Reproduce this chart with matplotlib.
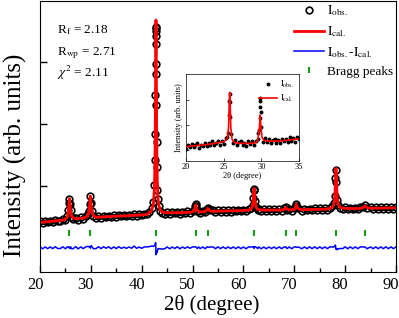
import matplotlib
matplotlib.use("Agg")
from matplotlib import pyplot as plt
from matplotlib.transforms import ScaledTranslation

plt.rcParams['font.family'] = ['Liberation Serif', 'DejaVu Serif']
plt.rcParams['mathtext.fontset'] = 'stix'

# ---- main pattern (2theta, observed, calculated) ----
two_theta = [20.0, 20.5, 21.0, 21.5, 22.0, 22.5, 23.0, 23.5, 24.0, 24.5,
             25.0, 25.4, 25.6, 25.7, 25.8, 25.9, 26.0, 26.2, 26.5,
             27.0, 27.5, 28.0, 28.5,
             29.0, 29.4, 29.6, 29.75, 29.9, 30.05, 30.2, 30.5,
             31.0, 31.5, 32.0, 32.5, 33.0, 33.5, 34.0, 34.5, 35.0, 35.5, 36.0,
             36.5, 37.0, 37.5, 38.0, 38.5, 39.0, 39.5, 40.0, 40.5, 41.0,
             41.5, 42.0, 42.3, 42.5, 42.6, 42.65, 42.7, 42.73, 42.76, 42.78, 42.8,
             42.82, 42.84, 42.87, 42.9, 42.95, 43.0, 43.1, 43.2, 43.35, 43.6, 44.0,
             44.5, 45.0, 45.5, 46.0, 46.5, 47.0, 47.5, 48.0, 48.5, 49.0, 49.5,
             50.0, 50.3, 50.5, 50.6, 50.7, 50.9, 51.2,
             51.5, 52.0,
             52.5, 52.85, 53.0, 53.15, 53.5,
             54.0, 54.5, 55.0, 55.5, 56.0, 56.5, 57.0, 57.5, 58.0, 58.5, 59.0,
             59.5, 60.0, 60.5, 61.0,
             61.5, 61.8, 61.95, 62.05, 62.1, 62.15, 62.3, 62.5, 62.8,
             63.0, 63.5, 64.0, 64.5, 65.0, 65.5, 66.0, 66.5, 67.0, 67.5,
             68.0, 68.3, 68.6,
             69.0, 69.5,
             70.0, 70.25, 70.4, 70.55, 70.8,
             71.5, 72.0, 72.5, 73.0, 73.5, 74.0, 74.5, 75.0, 75.5, 76.0, 76.5, 77.0,
             77.5, 77.8, 77.95, 78.1, 78.2, 78.3, 78.45, 78.6, 79.0,
             79.5, 80.0, 80.5, 81.0, 81.5, 82.0, 82.5, 83.0,
             83.5, 83.9, 84.3,
             85.0, 85.5, 86.0, 86.5, 87.0, 87.5, 88.0, 88.5, 89.0, 89.5, 90.0]

i_cal = [410, 414, 418, 422, 426, 430, 434, 438, 442, 446,
         463, 504, 590, 708, 793, 710, 594, 512, 485,
         469, 472, 476, 479,
         494, 519, 573, 679, 836, 680, 576, 520,
         493, 495, 498, 500, 502, 504, 506, 508, 510, 512, 514,
         516, 518, 520, 522, 524, 526, 528, 530, 533, 536,
         566, 610, 712, 974, 1372, 1764, 2390, 2878, 3359, 3587, 3672,
         3587, 3359, 2878, 2390, 1764, 1372, 976, 804, 688, 616, 580,
         568, 566, 565, 565, 566, 566, 567, 568, 569, 570, 572,
         581, 599, 656, 694, 657, 601, 585,
         580, 582,
         589, 614, 637, 615, 592,
         590, 591, 592, 593, 594, 595, 596, 597, 598, 599, 600,
         601, 602, 606, 610,
         626, 676, 782, 924, 958, 924, 733, 650, 622,
         614, 611, 610, 609, 609, 608, 608, 609, 609, 610,
         622, 650, 623,
         612, 614,
         622, 657, 702, 658, 627,
         615, 616, 617, 618, 618, 619, 620, 621, 622, 623, 629, 634,
         655, 707, 800, 1077, 1280, 1077, 800, 707, 651,
         642, 636, 635, 634, 634, 635, 635, 636,
         647, 677, 648,
         639, 639, 640, 640, 641, 642, 642, 643, 644, 644, 645]

i_obs = [425, 398, 431, 409, 440, 417, 452, 426, 431, 462,
         448, 521, 603, 722, 786, 701, 611, 498, 470,
         488, 455, 490, 467,
         510, 541, 590, 702, 830, 715, 598, 505,
         480, 512, 486, 517, 495, 521, 490, 523, 498, 530, 505,
         527, 509, 534, 515, 552, 518, 541, 522, 548, 551,
         585, 640, 735, 1010, 1420, 1830, 2460, 2960, 3420, 3540, 3560,
         3500, 3290, 2810, 2300, 1700, 1300, 930, 790, 675, 600, 560,
         552, 580, 549, 578, 556, 583, 552, 581, 560, 586, 565,
         596, 615, 670, 705, 668, 590, 600,
         568, 595,
         575, 630, 650, 622, 606,
         604, 578, 607, 580, 609, 583, 611, 585, 612, 586, 615,
         588, 616, 591, 624,
         640, 690, 800, 935, 950, 940, 752, 662, 610,
         628, 597, 622, 594, 623, 596, 621, 595, 624, 597,
         635, 665, 610,
         626, 600,
         637, 672, 712, 666, 640,
         601, 631, 604, 633, 605, 634, 607, 636, 609, 638, 616, 650,
         668, 720, 830, 1120, 1255, 1060, 770, 690, 640,
         628, 652, 620, 649, 621, 650, 622, 651,
         660, 690, 634,
         653, 625, 655, 626, 657, 628, 658, 629, 659, 631, 660]

bragg_pos = [25.8, 29.9, 42.8, 50.6, 53.0, 62.1, 68.3, 70.4, 78.2, 83.9]
bragg_level = 237

assert len(two_theta) == len(i_obs) == len(i_cal)
i_diff = [o - c for o, c in zip(i_obs, i_cal)]

# ---- inset: low angle scan ----
ins_cal_x = [20.0, 20.5, 21.0, 21.5, 22.0, 22.5, 23.0, 23.5, 24.0, 24.5, 25.0,
             25.3, 25.5, 25.65, 25.75, 25.8, 25.85, 25.95, 26.1, 26.3, 26.6,
             27.0, 27.5, 28.0, 28.5, 29.0, 29.3, 29.5, 29.65, 29.75, 29.85,
             29.95, 30.1, 30.3, 30.6, 31.0, 31.5, 32.0, 32.5, 33.0, 33.5,
             34.0, 34.5, 35.0]
ins_cal_y = [1133, 1150, 1165, 1180, 1195, 1210, 1228, 1250, 1280, 1305, 1340,
             1390, 1480, 1900, 3000, 3307, 3000, 1900, 1450, 1330, 1290,
             1275, 1268, 1265, 1265, 1275, 1300, 1380, 1640, 1900, 2400,
             1900, 1500, 1400, 1370, 1360, 1355, 1355, 1362, 1375, 1395,
             1415, 1430, 1445]
ins_obs_x = [20.0, 20.25, 20.5, 20.75, 21.0, 21.25, 21.5, 21.75, 22.0, 22.25,
             22.5, 22.75, 23.0, 23.25, 23.5, 23.75, 24.0, 24.25, 24.5, 24.75,
             25.0, 25.25, 25.5, 25.6, 25.7, 25.75, 25.8, 25.85, 25.9, 26.0,
             26.25, 26.5, 26.75, 27.0, 27.25, 27.5, 27.75, 28.0, 28.25, 28.5,
             28.75, 29.0, 29.25, 29.5, 29.6, 29.7, 29.8, 29.83, 29.85, 29.87,
             29.9, 30.0, 30.25, 30.5, 30.75, 31.0, 31.25, 31.5, 31.75, 32.0,
             32.25, 32.5, 32.75, 33.0, 33.25, 33.5, 33.75, 34.0, 34.25, 34.5,
             34.75, 35.0]
ins_obs_y = [1043, 1202, 1130, 1258, 1105, 1202, 1270, 1088, 1205, 1153,
             1290, 1149, 1268, 1209, 1360, 1185, 1300, 1362, 1215, 1372,
             1250, 1470, 1520, 1700, 2400, 2950, 3250, 2900, 2300, 1650,
             1280, 1385, 1205, 1315, 1372, 1198, 1286, 1165, 1345, 1235,
             1360, 1205, 1355, 1430, 1700, 1800, 2270, 2700, 3067, 2950,
             2500, 1900, 1330, 1470, 1328, 1460, 1267, 1385, 1435, 1285,
             1408, 1262, 1458, 1345, 1455, 1315, 1515, 1365, 1462, 1340,
             1518, 1425]

fig = plt.figure(figsize=(3.99, 3.18), dpi=100)
ax = fig.add_axes([40 / 399, 1 - 272 / 318, 356 / 399, 271 / 318])

ax.plot(two_theta, i_obs, 'o', ms=4.8, mfc='none', mec='black', mew=1.2,
        label=r'$\mathrm{I_{obs.}}$')
ax.plot(two_theta, i_cal, '-', color='red', lw=2, label=r'$\mathrm{I_{cal.}}$')
ax.plot(two_theta, i_diff, '-', color='blue', lw=1.1,
        label=r'$\mathrm{I_{obs.}}$-$\mathrm{I_{cal.}}$')
ax.plot(bragg_pos, [bragg_level] * len(bragg_pos), '|', color='#1a9a1a',
        ms=5, mew=1.5, label='Bragg peaks')

ax.set_xlim(20, 90)
ax.set_ylim(-390, 3980)
ax.set_xticks(range(20, 91, 10))
ax.set_xticks(range(25, 90, 10), minor=True)
ax.set_yticks([1000, 2000, 3000])
ax.set_yticklabels([])
ax.tick_params(direction='in', labelsize=12, length=5, width=1)
ax.tick_params(which='minor', direction='in', length=3, width=1)
# the tick numbers sit a little left of their ticks in the original
shift = ScaledTranslation(-5 / 100, 0, fig.dpi_scale_trans)
for lab in ax.get_xticklabels():
    lab.set_transform(lab.get_transform() + shift)

ax.set_xlabel(u'2\u03b8 (degree)', fontsize=15)
ax.xaxis.set_label_coords(0.483, -0.085)
ax.set_ylabel('Intensity (arb. units)', fontsize=18)
ax.yaxis.set_label_coords(-0.036, 0.43)

ax.text(0.047, 0.88, r'R$_\mathrm{f}$ = 2.18', transform=ax.transAxes, fontsize=9.5)
ax.text(0.047, 0.80, r'R$_\mathrm{wp}$ = 2.71', transform=ax.transAxes, fontsize=9.5)
ax.text(0.047, 0.72, r'$\chi^2$ = 2.11', transform=ax.transAxes, fontsize=9.5)

ax.legend(loc='upper right', frameon=False, fontsize=9.5,
          handlelength=2.3, handletextpad=0.25, labelspacing=0.45,
          borderaxespad=0.05, borderpad=0.15)

# inset
ins = fig.add_axes([186 / 399, 1 - 161 / 318, 113 / 399, 87 / 318])
ins.plot(ins_obs_x, ins_obs_y, 'o', ms=1.8, color='black', label=r'$\mathrm{I_{obs.}}$')
ins.plot(ins_cal_x, ins_cal_y, '-', color='red', lw=1.2, label=r'$\mathrm{I_{cal.}}$')
ins.set_xlim(20, 35)
ins.set_ylim(560, 4040)
ins.set_xticks([20, 25, 30, 35])
ins.set_yticks([1000, 2000, 3000])
ins.set_yticklabels([])
ins.tick_params(direction='in', labelsize=6, length=2.5, width=0.5, pad=1.5)
for s in ins.spines.values():
    s.set_linewidth(0.5)
ins.set_xlabel(u'2\u03b8 (degree)', fontsize=6, labelpad=1)
ins.set_ylabel('Intensity (arb. units)', fontsize=6, labelpad=1)
ins.legend(loc='upper right', frameon=False, fontsize=6, handlelength=2.2,
           handletextpad=0.3, labelspacing=0.3, borderaxespad=0.2)

fig.savefig('out.png', dpi=100)
